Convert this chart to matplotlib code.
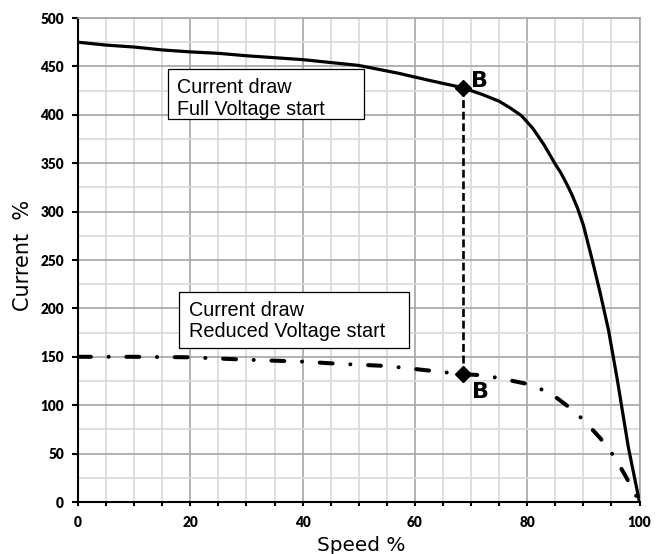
import matplotlib
matplotlib.use('Agg')
import matplotlib.pyplot as plt
from matplotlib.patches import Rectangle
from matplotlib.ticker import MultipleLocator

# full voltage start current (solid)
full_speed = [0, 5, 10, 15, 20, 25, 30, 40, 50, 57, 63, 68.5, 72, 75, 77, 79, 81,
              83, 85, 86, 87, 88, 89, 90, 91.5, 93, 94.5, 96, 98, 100]
full_current = [475, 472, 470, 467, 465, 463.5, 461, 457, 451, 443, 435, 428, 421,
                414, 407, 399, 386, 369, 349, 340, 329, 317, 303, 286, 252, 216,
                177, 128, 57, 0]

# reduced voltage start current (dash-dot)
red_speed = [0, 10, 20, 30, 40, 47, 55, 63, 68.5, 72, 75, 80, 84, 87, 90, 93,
             95.5, 97.5, 100]
red_current = [150, 150, 149.5, 147, 145, 142.6, 140.5, 135.5, 132, 131, 128, 122,
               113, 100, 85, 66, 47, 27, 0]

# point B on both curves
b_speed = 68.5
b_full = 428
b_reduced = 132

W, H = 659, 554
fig = plt.figure(figsize=(W / 100, H / 100), dpi=100)
ax = fig.add_axes([78 / W, 1 - 502 / H, (639.5 - 78) / W, (502 - 18) / H])

ax.set_xlim(0, 100)
ax.set_ylim(0, 500)

ax.xaxis.set_major_locator(MultipleLocator(20))
ax.xaxis.set_minor_locator(MultipleLocator(5))
ax.yaxis.set_major_locator(MultipleLocator(50))
ax.yaxis.set_minor_locator(MultipleLocator(25))

ax.grid(which='major', color='#a6a6a6', lw=1.2, zorder=0)
ax.grid(which='minor', color='#d9d9d9', lw=1.2, zorder=0)
ax.set_axisbelow(True)

for s in ['left', 'bottom']:
    ax.spines[s].set_color('black')
    ax.spines[s].set_linewidth(1.5)
for s in ['top', 'right']:
    ax.spines[s].set_color('#a6a6a6')
    ax.spines[s].set_linewidth(1.2)

ax.tick_params(axis='x', which='both', direction='out', length=3, width=1.5,
               color='black', pad=7)
ax.tick_params(axis='y', which='major', direction='out', length=4, width=1.5,
               color='black', pad=6)
ax.tick_params(axis='y', which='minor', length=0)
for lab in ax.get_xticklabels() + ax.get_yticklabels():
    lab.set_fontfamily('Lato')
    lab.set_fontweight('heavy')
    lab.set_fontsize(9.8)

ax.plot(full_speed, full_current, color='black', lw=2.3, zorder=3,
        solid_capstyle='round', solid_joinstyle='round')
ax.plot(red_speed, red_current, color='black', lw=2.9, zorder=3,
        linestyle=(0, (3.2, 4.4, 0.01, 4.4)), dash_capstyle='round')

ax.plot([b_speed, b_speed], [b_full, b_reduced], color='black', lw=1.9, zorder=3,
        linestyle=(0, (3, 1.4)))
ax.plot([b_speed, b_speed], [b_full, b_reduced], linestyle='none', marker='D',
        ms=8, color='black', zorder=4)

tr = fig.transFigure
ax.text(471 / W, 1 - 87.3 / H, 'B', transform=tr, fontsize=16,
        fontweight='bold', family='DejaVu Sans', va='baseline', ha='left')
ax.text(472.5 / W, 1 - 398.3 / H, 'B', transform=tr, fontsize=16,
        fontweight='bold', family='DejaVu Sans', va='baseline', ha='left')

# annotation boxes
ax.add_patch(Rectangle((168 / W, 1 - 119 / H), 196 / W, 50 / H, transform=tr,
                       facecolor='white', edgecolor='black', lw=0.9, zorder=5))
ax.text(177 / W, 1 - 93 / H, 'Current draw', transform=tr, fontsize=14.2,
        family='Liberation Sans', va='baseline', ha='left', zorder=6)
ax.text(177 / W, 1 - 115 / H, 'Full Voltage start', transform=tr, fontsize=14.2,
        family='Liberation Sans', va='baseline', ha='left', zorder=6)

ax.add_patch(Rectangle((179.5 / W, 1 - 348.3 / H), 229 / W, 56 / H, transform=tr,
                       facecolor='white', edgecolor='black', lw=0.9, zorder=5))
ax.text(189 / W, 1 - 316 / H, 'Current draw', transform=tr, fontsize=14.3,
        family='Liberation Sans', va='baseline', ha='left', zorder=6)
ax.text(189 / W, 1 - 337.3 / H, 'Reduced Voltage start', transform=tr,
        fontsize=14.3, family='Liberation Sans', va='baseline', ha='left', zorder=6)

fig.text(361 / W, 1 - 551 / H, 'Speed %', fontsize=14.4, family='DejaVu Sans',
         ha='center', va='baseline')
fig.text(23 / W, 1 - 255 / H, 'Current  %', fontsize=15, family='DejaVu Sans',
         rotation=90, ha='center', va='center')

fig.savefig('out.png', dpi=100)
